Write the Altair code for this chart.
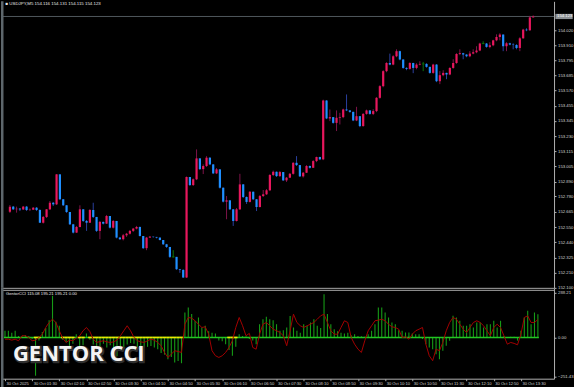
import altair as alt
import pandas as pd

# ---------------- data ----------------
first_open = 152.666
close = [
152.704, 152.684, 152.689, 152.683, 152.704, 152.679, 152.681, 152.696, 152.679, 152.584,
152.627, 152.684, 152.733, 152.721, 152.945, 152.759, 152.714, 152.664, 152.572, 152.510,
152.552, 152.684, 152.597, 152.584, 152.679, 152.627, 152.523, 152.590, 152.577, 152.634,
152.547, 152.597, 152.473, 152.461, 152.490, 152.502, 152.523, 152.540, 152.552, 152.485,
152.394, 152.473, 152.480, 152.478, 152.473, 152.455, 152.423, 152.403, 152.329, 152.329,
152.237, 152.232, 152.175, 152.925, 152.865, 152.908, 153.064, 152.984, 153.007, 153.069,
153.019, 152.952, 152.982, 152.845, 152.741, 152.751, 152.684, 152.597, 152.684, 152.870,
152.776, 152.739, 152.815, 152.759, 152.701, 152.783, 152.796, 152.826, 152.940, 152.964,
152.932, 152.962, 152.900, 152.920, 152.949, 153.031, 153.014, 152.930, 152.957, 153.007,
152.994, 153.044, 153.074, 153.057, 153.496, 153.362, 153.372, 153.329, 153.367, 153.372,
153.429, 153.422, 153.411, 153.347, 153.379, 153.305, 153.396, 153.422, 153.396, 153.417,
153.516, 153.603, 153.715, 153.776, 153.764, 153.826, 153.864, 153.802, 153.739, 153.732,
153.776, 153.739, 153.764, 153.769, 153.769, 153.747, 153.702, 153.764, 153.640, 153.685,
153.702, 153.690, 153.739, 153.776, 153.843, 153.849, 153.839, 153.826, 153.846, 153.856,
153.869, 153.921, 153.921, 153.896, 153.908, 153.945, 153.970, 153.988, 153.901, 153.923,
153.913, 153.910, 153.888, 153.960, 154.025, 154.020, 154.116, 154.123]
high = [
152.716, 152.709, 152.704, 152.694, 152.709, 152.709, 152.690, 152.701, 152.701, 152.684,
152.634, 152.686, 152.746, 152.739, 152.947, 152.945, 152.761, 152.716, 152.664, 152.575,
152.560, 152.714, 152.686, 152.604, 152.686, 152.733, 152.627, 152.597, 152.593, 152.642,
152.634, 152.604, 152.597, 152.478, 152.500, 152.508, 152.530, 152.545, 152.560, 152.556,
152.485, 152.478, 152.485, 152.481, 152.478, 152.474, 152.455, 152.426, 152.403, 152.379,
152.329, 152.239, 152.236, 152.929, 152.925, 152.914, 153.131, 153.066, 153.019, 153.081,
153.074, 153.022, 152.992, 152.984, 152.847, 152.783, 152.753, 152.686, 152.694, 152.949,
152.873, 152.780, 152.820, 152.817, 152.761, 152.791, 152.828, 152.835, 152.947, 152.973,
152.966, 152.970, 152.962, 152.925, 152.955, 153.036, 153.081, 153.014, 152.962, 153.014,
153.011, 153.051, 153.077, 153.076, 153.502, 153.498, 153.429, 153.372, 153.422, 153.404,
153.435, 153.541, 153.424, 153.413, 153.449, 153.379, 153.402, 153.428, 153.424, 153.431,
153.521, 153.610, 153.722, 153.782, 153.846, 153.834, 153.878, 153.868, 153.804, 153.744,
153.782, 153.778, 153.774, 153.789, 153.784, 153.774, 153.748, 153.770, 153.767, 153.715,
153.722, 153.703, 153.744, 153.804, 153.849, 153.878, 153.852, 153.841, 153.864, 153.878,
153.901, 153.927, 153.938, 153.925, 153.931, 153.949, 153.990, 153.998, 153.990, 153.931,
153.927, 153.923, 153.916, 153.968, 154.031, 154.035, 154.128, 154.131]
low = [
152.657, 152.679, 152.659, 152.671, 152.679, 152.671, 152.671, 152.679, 152.671, 152.582,
152.578, 152.619, 152.679, 152.709, 152.716, 152.753, 152.709, 152.657, 152.567, 152.504,
152.508, 152.549, 152.590, 152.523, 152.582, 152.619, 152.515, 152.461, 152.571, 152.575,
152.541, 152.541, 152.467, 152.455, 152.452, 152.478, 152.496, 152.515, 152.534, 152.481,
152.388, 152.379, 152.470, 152.472, 152.467, 152.452, 152.418, 152.396, 152.321, 152.324,
152.232, 152.210, 152.172, 152.172, 152.858, 152.858, 152.902, 152.977, 152.947, 153.000,
153.014, 152.947, 152.947, 152.839, 152.735, 152.610, 152.679, 152.560, 152.593, 152.679,
152.768, 152.724, 152.735, 152.753, 152.671, 152.698, 152.776, 152.791, 152.820, 152.932,
152.925, 152.925, 152.895, 152.888, 152.917, 152.943, 153.007, 152.925, 152.921, 152.955,
152.988, 152.992, 153.036, 153.051, 153.051, 153.357, 153.342, 153.323, 153.268, 153.317,
153.364, 153.417, 153.405, 153.342, 153.342, 153.297, 153.301, 153.390, 153.390, 153.387,
153.409, 153.510, 153.595, 153.707, 153.759, 153.759, 153.819, 153.796, 153.733, 153.722,
153.726, 153.700, 153.729, 153.759, 153.715, 153.741, 153.696, 153.696, 153.633, 153.618,
153.677, 153.655, 153.685, 153.733, 153.770, 153.834, 153.804, 153.819, 153.819, 153.841,
153.849, 153.864, 153.916, 153.890, 153.886, 153.901, 153.938, 153.945, 153.864, 153.864,
153.908, 153.878, 153.878, 153.864, 153.957, 154.013, 154.016, 154.115]

# GentorCCI histogram and signal line
hist = [
43, 43, 30, 43, 10, 8, 15, 10, -10, -245,
-20, 35, 60, 110, 267, 100, 75, -15, -30, -64,
-40, 20, -64, -50, 25, -15, -45, -64, -55, -40,
-64, -50, -100, -120, -85, -64, -45, -35, -40, -64,
-110, -64, -60, -55, -64, -75, -100, -110, -140, -125,
-160, -150, -165, 160, 192, 150, 107, 128, 64, 75,
40, 30, 25, -20, -25, -43, -80, -117, -60, 20,
10, 8, -10, -20, -43, 85, 117, 132, 117, 110,
85, 43, 47, 64, 138, 64, 43, 30, 85, 75,
96, 117, 75, 60, 277, 150, 85, 53, 40, 30,
25, 30, 15, 20, 10, 8, 5, 20, 43, 85,
192, 192, 160, 128, 96, 85, 47, 43, 32, 32,
25, 21, 20, -10, -43, -64, -75, -107, -139, -85,
-53, -21, 139, 128, 107, 75, 75, 85, 64, 96,
96, 64, 85, 85, 107, 64, 107, 10, 0, 5,
5, -20, 43, 128, 171, 85, 160, 149]
cci = [
-11, -11, -17, -11, -21, 11, 11, 0, -21, -17,
0, 21, 64, 96, 117, 96, 43, -4, -32, -17,
-21, -4, 11, 43, 64, 38, -11, -32, -26, -21,
-28, -32, -28, -17, 11, 43, 75, 43, 0, -21,
-28, -32, -21, -11, -17, -32, -53, -96, -128, -107,
-85, -90, -96, 85, 128, 124, 107, 85, 64, 68,
21, -85, -117, -128, -117, -96, -64, -21, 64, 128,
75, 11, 26, -64, -75, 21, 85, 96, 75, 53,
43, 32, 11, -53, 43, 149, 96, 75, 64, 75,
85, 96, 117, 139, 149, 96, 43, 21, 21, 64,
107, 96, 0, -43, -75, -96, -21, 43, 75, 107,
111, 117, 107, 85, 68, 64, 53, 0, 4, -11,
21, 43, 53, 64, -43, -117, -149, -75, -85, -32,
43, 96, 128, 117, 85, 53, 32, 64, 96, 107,
96, 75, 43, 11, 64, 85, 64, 11, -43, -32,
-38, -47, 21, 128, 139, 96, 96, 115]
yellow_bars = [9, 10, 17, 18, 19, 20, 22, 23,
               25, 26, 27, 28, 29, 30, 31, 32, 33, 34, 35, 36, 37, 38, 39, 40,
               41, 42, 43, 44, 45, 46, 47, 48, 49, 50, 51, 52, 66, 67, 68]

time_labels = ["30 Oct 2025", "30 Oct 01:30", "30 Oct 02:10", "30 Oct 02:50", "30 Oct 03:30",
               "30 Oct 04:10", "30 Oct 04:50", "30 Oct 05:30", "30 Oct 06:10", "30 Oct 06:50",
               "30 Oct 07:30", "30 Oct 08:10", "30 Oct 08:50", "30 Oct 09:30", "30 Oct 10:10",
               "30 Oct 10:50", "30 Oct 11:30", "30 Oct 12:10", "30 Oct 12:50", "30 Oct 13:30"]
bars_per_label = 8
price_ticks = [154.020, 153.910, 153.795, 153.685, 153.570, 153.455, 153.345, 153.230, 153.115,
               153.005, 152.890, 152.780, 152.665, 152.550, 152.440, 152.325, 152.210, 152.100]
cci_ticks = [288.21, 0.0, -251.43]
title_text = "\u25a0 USDJPY,M5  154.116 154.131 154.115 154.123"
ind_text = "GentorCCI 115.08 195.21 195.21 0.00"
watermark = "GENTOR CCI"

# ---------------- tables ----------------
n = len(close)
assert len(high) == n and len(low) == n and len(hist) == n and len(cci) == n
opens = [first_open] + close[:-1]
bars = pd.DataFrame({"i": list(range(n)), "open": opens, "close": close, "high": high, "low": low})
bars["dir"] = ["up" if c > o else ("down" if c < o else "flat") for o, c in zip(opens, close)]
osc = pd.DataFrame({"i": list(range(n)), "hist": hist, "cci": cci, "zero": [0.0] * n,
                    "state": ["warn" if k in yellow_bars else "ok" for k in range(n)]})
cur = pd.DataFrame({"p": [close[-1]], "t": [f"{close[-1]:.3f}"]})

# ---------------- styling ----------------
FONT = "Liberation Sans"
BULL, BEAR, DOJI = "#e8175d", "#1f8fff", "#0c7f0c"
WICK_BULL, WICK_BEAR = "#8c1552", "#2f46b0"
HISTC, ZEROC, YELC, REDC = "#169a16", "#22c522", "#f2e600", "#a30000"
LBL = "#d4d4d4"
AXC = "#b0b0b0"
SEP = "#a8a8a8"

W, H_MAIN, H_SUB = 554, 287, 91
xs = alt.Scale(domain=[-1.176, 161.76], nice=False, zero=False)
ys_main = alt.Scale(domain=[152.098, 154.236], nice=False, zero=False)
ys_sub = alt.Scale(domain=[-264, 318], nice=False, zero=False)

price_axis = alt.Axis(orient="right", values=price_ticks, format=".3f", labelFont=FONT,
                      labelFontSize=4.3, labelColor=LBL, tickColor=AXC, tickSize=2,
                      domainColor=AXC, grid=False, title=None, labelPadding=1.5,
                      labelOverlap=False, labelBound=False, labelFlush=False)
cci_axis = alt.Axis(orient="right", values=cci_ticks, format=".2f", labelFont=FONT,
                    labelFontSize=4.3, labelColor=LBL, tickColor=AXC, tickSize=2,
                    domainColor=AXC, grid=False, title=None, labelPadding=1.5,
                    labelOverlap=False, labelBound=False, labelFlush=False)
label_expr = "[" + ",".join(f"'{t}'" for t in time_labels) + "][round(datum.value/%d)]" % bars_per_label
time_axis = alt.Axis(orient="bottom", values=[bars_per_label * k for k in range(len(time_labels))],
                     labelExpr=label_expr, labelFont=FONT, labelFontSize=4.1, labelColor=LBL,
                     labelAlign="left", labelBaseline="top", labelPadding=1, labelOffset=1,
                     tickSize=2, tickColor=AXC, domainColor=AXC, grid=False, title=None,
                     labelFlush=False, labelOverlap=False)

base = alt.Chart(bars)

price_line = alt.Chart(cur).mark_rule(color="#4f575c", strokeWidth=1).encode(
    y=alt.Y("p:Q", scale=ys_main, axis=None))

wicks = base.mark_rule(strokeWidth=0.9).encode(
    x=alt.X("i:Q", scale=xs, axis=None),
    y=alt.Y("low:Q", scale=ys_main, axis=price_axis),
    y2="high:Q",
    color=alt.Color("dir:N", scale=alt.Scale(domain=["up", "down", "flat"],
                                             range=[WICK_BULL, WICK_BEAR, DOJI]), legend=None))

bodies = base.mark_bar(size=2.2).encode(
    x=alt.X("i:Q", scale=xs, axis=None),
    y=alt.Y("open:Q", scale=ys_main, axis=None),
    y2="close:Q",
    color=alt.Color("dir:N", scale=alt.Scale(domain=["up", "down", "flat"],
                                             range=[BULL, BEAR, DOJI]), legend=None))

dojis = base.transform_filter("datum.dir == 'flat'").mark_tick(
    orient="horizontal", size=2.8, thickness=1, color=DOJI).encode(
    x=alt.X("i:Q", scale=xs, axis=None),
    y=alt.Y("close:Q", scale=ys_main, axis=None))

title_layer = alt.Chart(pd.DataFrame({"t": [title_text]})).mark_text(
    align="left", baseline="top", font=FONT, fontSize=4.4, color="#e6e6e6").encode(
    x=alt.value(4.5), y=alt.value(0.5), text="t:N")

price_box = alt.Chart(cur).mark_point(
    shape="M-1,-0.3L1,-0.3L1,0.3L-1,0.3Z", filled=True, size=300, color="#8d9296",
    opacity=1).encode(x=alt.value(564), y=alt.Y("p:Q", scale=ys_main, axis=None))
price_text = alt.Chart(cur).mark_text(
    align="left", baseline="middle", font=FONT, fontSize=4.3, color="#ffffff").encode(
    x=alt.value(557), y=alt.Y("p:Q", scale=ys_main, axis=None), text="t:N")

strip_main = alt.Chart(pd.DataFrame({"k": [0]})).mark_rect(color="#5d666b").encode(
    x=alt.value(0), x2=alt.value(2.5), y=alt.value(0), y2=alt.value(H_MAIN))

main = alt.layer(price_line, wicks, bodies, dojis, title_layer, price_box, price_text,
                 strip_main).resolve_scale(color="independent").resolve_axis(
    x="independent", y="independent").properties(width=W, height=H_MAIN)

# ---------------- indicator panel ----------------
hist_layer = alt.Chart(osc).mark_rule(color=HISTC, strokeWidth=1.1).encode(
    x=alt.X("i:Q", scale=xs, axis=time_axis),
    y=alt.Y("zero:Q", scale=ys_sub, axis=cci_axis),
    y2="hist:Q")

zero_layer = alt.Chart(osc).transform_aggregate(lo="min(i)", hi="max(i)").transform_calculate(
    lo2="datum.lo - 0.3", hi2="datum.hi + 0.3", z="0").mark_rule(
    color=ZEROC, strokeWidth=1.6).encode(
    x=alt.X("lo2:Q", scale=xs, axis=None), x2="hi2:Q",
    y=alt.Y("z:Q", scale=ys_sub, axis=None))

yellow_layer = alt.Chart(osc).transform_filter("datum.state == 'warn'").transform_calculate(
    a="datum.i - 0.5", b="datum.i + 0.5").mark_rule(color=YELC, strokeWidth=1.6).encode(
    x=alt.X("a:Q", scale=xs, axis=None), x2="b:Q",
    y=alt.Y("zero:Q", scale=ys_sub, axis=None))

line_layer = alt.Chart(osc).mark_line(color=REDC, strokeWidth=1).encode(
    x=alt.X("i:Q", scale=xs, axis=None),
    y=alt.Y("cci:Q", scale=ys_sub, axis=None))

ind_label = alt.Chart(pd.DataFrame({"t": [ind_text]})).mark_text(
    align="left", baseline="middle", font=FONT, fontSize=4.2, color="#e6e6e6").encode(
    x=alt.value(5), y=alt.value(6), text="t:N")

wm_df = pd.DataFrame({"t": [watermark]})
wm_shadow = alt.Chart(wm_df).mark_text(
    align="left", baseline="alphabetic", font="Open Sans", fontSize=22, fontWeight="bold",
    color="#303030", stroke="#303030", strokeWidth=2.4, dx=1, dy=1).encode(
    x=alt.value(12), y=alt.value(73), text="t:N")
wm_front = alt.Chart(wm_df).mark_text(
    align="left", baseline="alphabetic", font="Open Sans", fontSize=22, fontWeight="bold",
    color="#f4f4f4").encode(x=alt.value(12), y=alt.value(73), text="t:N")

sep1 = alt.Chart(pd.DataFrame({"k": [0]})).mark_rule(color=SEP, strokeWidth=1).encode(
    y=alt.value(0.5))
sep2 = alt.Chart(pd.DataFrame({"k": [0]})).mark_rule(color=SEP, strokeWidth=1).encode(
    y=alt.value(2.5))

strip_sub = alt.Chart(pd.DataFrame({"k": [0]})).mark_rect(color="#5d666b").encode(
    x=alt.value(0), x2=alt.value(2.5), y=alt.value(0), y2=alt.value(H_SUB + 9))

sub = alt.layer(hist_layer, zero_layer, yellow_layer, line_layer, ind_label,
                wm_shadow, wm_front, sep1, sep2, strip_sub).resolve_axis(
    x="independent", y="independent").properties(width=W, height=H_SUB)

chart = alt.vconcat(main, sub, spacing=0, bounds="flush").properties(
    background="#000000", padding=0).configure_view(stroke=None)

chart.save("out.html", embed_options={"renderer": "svg", "actions": False})
